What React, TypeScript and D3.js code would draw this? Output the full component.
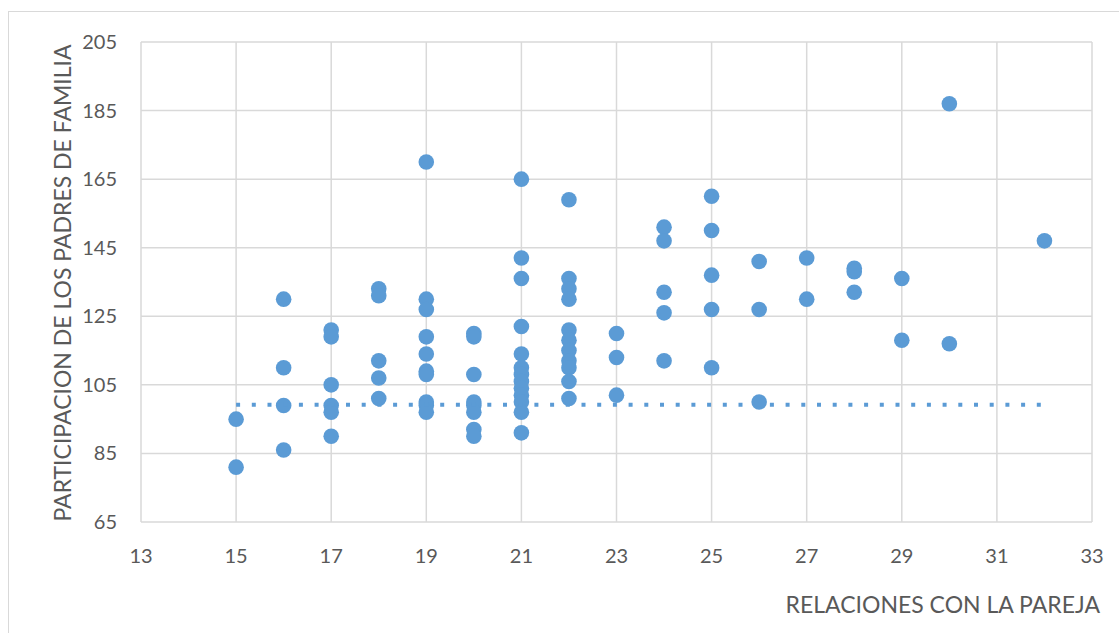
import * as d3 from "d3";

// Scatter data: RELACIONES CON LA PAREJA (x) vs PARTICIPACION DE LOS PADRES DE FAMILIA (y)
const relaciones = [
  15, 15,
  16, 16, 16, 16,
  17, 17, 17, 17, 17, 17,
  18, 18, 18, 18, 18,
  19, 19, 19, 19, 19, 19, 19, 19, 19, 19,
  20, 20, 20, 20, 20, 20, 20, 20,
  21, 21, 21, 21, 21, 21, 21, 21, 21, 21, 21, 21, 21,
  22, 22, 22, 22, 22, 22, 22, 22, 22, 22, 22,
  23, 23, 23,
  24, 24, 24, 24, 24,
  25, 25, 25, 25, 25,
  26, 26, 26,
  27, 27,
  28, 28, 28,
  29, 29,
  30, 30,
  32,
];
const participacion = [
  95, 81,
  130, 110, 99, 86,
  121, 119, 105, 99, 97, 90,
  133, 131, 112, 107, 101,
  170, 130, 127, 119, 114, 109, 108, 100, 99, 97,
  120, 119, 108, 100, 99, 97, 92, 90,
  165, 142, 136, 122, 114, 110, 108, 106, 104, 102, 100, 97, 91,
  159, 136, 133, 130, 121, 118, 115, 112, 110, 106, 101,
  120, 113, 102,
  151, 147, 132, 126, 112,
  160, 150, 137, 127, 110,
  141, 127, 100,
  142, 130,
  139, 138, 132,
  136, 118,
  187, 117,
  147,
];

// dotted trend line
const trendX = [15, 32];
const trendY = [99.2, 99.2];

const xTicks = [13, 15, 17, 19, 21, 23, 25, 27, 29, 31, 33];
const yTicks = [65, 85, 105, 125, 145, 165, 185, 205];

const xTitle = "RELACIONES CON LA PAREJA";
const yTitle = "PARTICIPACION DE LOS PADRES DE FAMILIA";

export default function App() {
  const width = 1119;
  const height = 633;
  const font = "Lato, 'Liberation Sans', sans-serif";
  const textColor = "#595959";
  const gridColor = "#d9d9d9";
  const dotColor = "#5b9bd5";

  const x = d3.scaleLinear().domain([13, 33]).range([141, 1092]);
  const y = d3.scaleLinear().domain([65, 205]).range([522, 42]);

  const trend = d3.line<number>()
    .x((d, i) => x(trendX[i]))
    .y(d => y(d));

  return (
    <svg
      width={width}
      height={height}
      style={{ position: "absolute", left: 0, top: 0, background: "#fff" }}
      fontFamily={font}
    >
      {/* chart area border */}
      <rect x={8.5} y={11.5} width={width + 20} height={height + 20} fill="#fff" stroke={gridColor} strokeWidth={1} />

      {/* gridlines */}
      {yTicks.map(t => (
        <line key={"gy" + t} x1={x(13)} x2={x(33)} y1={y(t)} y2={y(t)} stroke={gridColor} strokeWidth={1.5} />
      ))}
      {xTicks.map(t => (
        <line key={"gx" + t} x1={x(t)} x2={x(t)} y1={y(65)} y2={y(205)} stroke={gridColor} strokeWidth={1.5} />
      ))}

      {/* tick labels */}
      {yTicks.map(t => (
        <text key={"ty" + t} x={117} y={y(t)} dy="0.35em" textAnchor="end" fontSize={20} fill={textColor}>
          {t}
        </text>
      ))}
      {xTicks.map(t => (
        <text key={"tx" + t} x={x(t)} y={563} textAnchor="middle" fontSize={20} fill={textColor}>
          {t}
        </text>
      ))}

      {/* points */}
      {relaciones.map((r, i) => (
        <circle key={"p" + i} cx={x(r)} cy={y(participacion[i])} r={7.8} fill={dotColor} />
      ))}

      {/* trend line */}
      <path
        d={trend(trendY) || ""}
        fill="none"
        stroke={dotColor}
        strokeWidth={4}
        strokeDasharray="4 11.7"
      />

      {/* axis titles */}
      <text x={1100} y={613} textAnchor="end" fontSize={23} fill={textColor}>
        {xTitle}
      </text>
      <text
        transform={`translate(71,${(y(65) + y(205)) / 2 + 1}) rotate(-90)`}
        textAnchor="middle"
        fontSize={23}
        fill={textColor}
      >
        {yTitle}
      </text>
    </svg>
  );
}
